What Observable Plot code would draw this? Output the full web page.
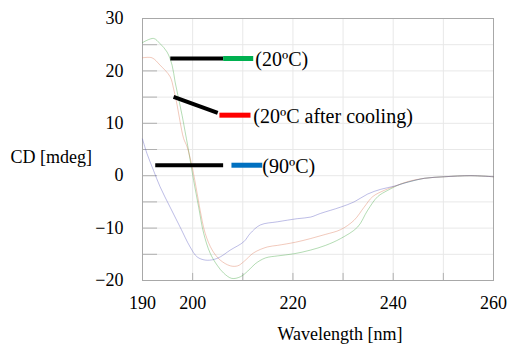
<!DOCTYPE html>
<html><head><meta charset="utf-8">
<script src="https://cdn.jsdelivr.net/npm/d3@7"></script>
<script src="https://cdn.jsdelivr.net/npm/@observablehq/plot@0.6"></script>
<style>body{margin:0;background:#fff}</style>
</head><body><div id="chart"></div>
<script>
const seriesNames = ["(20ºC)", "(20ºC after cooling)", "(90ºC)"];
const curveColors = ["#3aa33a", "#d9704f", "#5252bd"];
const swatchColors = ["#00b050", "#ff0000", "#0070c0"];

const wl20 = [190,192.2,193.5,194.9,195.9,196.5,197.2,197.9,198.5,199.0,199.5,200.2,201.2,202.2,203.5,204.9,206.2,207.8,209.5,211.0,212.5,214.5,217,220.2,223.5,226.5,229.5,232.9,234.9,236.9,238.9,241.5,243,246.2,250.2,255.5,260];
const cd20 = [25.4,26.2,25.2,23.6,21.1,17.9,14.7,11.5,8.4,5.8,3.0,-0.9,-6.0,-11.0,-14.8,-17.1,-18.6,-19.6,-19.3,-18.2,-16.8,-15.7,-15.3,-14.9,-14.2,-13.3,-12.0,-9.8,-6.6,-4.0,-2.8,-1.6,-1.2,-0.5,-0.2,0,-0.2];

const wlCool = [190,191.9,193.5,195.5,196.2,196.9,197.5,198.2,198.9,199.9,200.9,201.5,202.5,203.9,205.5,207.5,209,210.2,212.2,214.9,216.9,220.5,223.5,226.5,229.5,232.2,234.2,235.9,238.2,240.9,243,246.2,250.2,255.5,260];
const cdCool = [22.5,22.5,21.1,18.9,16.6,13.5,10.3,7.1,5.5,1.7,-3.4,-6.6,-11.0,-14.2,-16.1,-17.2,-17.2,-16.4,-14.7,-13.6,-13.3,-12.7,-12.0,-11.2,-10.3,-8.5,-6.0,-4.0,-2.8,-1.8,-1.1,-0.5,-0.2,0,-0.2];

const wl90 = [190,190.9,192.2,193.5,195.5,197.5,199.5,200.9,202.5,204.2,205.5,207.5,210.2,211.5,213.5,216.9,220.9,223.5,225.5,229.5,232.2,234.9,237.5,240.2,243,246.2,250.2,255.5,260];
const cd90 = [7.0,4.2,1.0,-2.1,-6.0,-9.8,-13.6,-15.5,-16.1,-16.0,-15.5,-14.2,-12.6,-11.0,-9.4,-8.8,-8.2,-7.9,-7.2,-6.0,-5.0,-3.5,-2.6,-2.0,-1.2,-0.5,-0.2,0,-0.2];

const xTickLabels = [190, 200, 220, 240, 260];
const yTickLabels = [30, 20, 10, 0, -10, -20];

// legend (annotation) anchor values in data units
const leaderStart = [[195.54, 22.37], [196.2, 15.04], [192.54, 2.0]];
const leaderEnd   = [[206.08, 22.37], [205.0, 11.98], [206.08, 2.0]];
const swatchX1 = [206.08, 205.34, 207.74];
const swatchX2 = [212.08, 211.54, 213.88];
const swatchY  = [22.37, 11.55, 2.0];
const labelX   = [212.5, 212.1, 213.9];

const curves = [
  ...wl20.map((w,i)=>({wl:w, cd:cd20[i], s:0})),
  ...wlCool.map((w,i)=>({wl:w, cd:cdCool[i], s:1})),
  ...wl90.map((w,i)=>({wl:w, cd:cd90[i], s:2}))
];
const leaders = seriesNames.map((n,i)=>({x1:leaderStart[i][0], y1:leaderStart[i][1], x2:leaderEnd[i][0], y2:leaderEnd[i][1]}));
const swatches = seriesNames.map((n,i)=>({x1:swatchX1[i], x2:swatchX2[i], y:swatchY[i], c:swatchColors[i], x:labelX[i], name:n}));

const ff = "Liberation Serif, serif";
const chart = Plot.plot({
  width: 508, height: 350,
  marginLeft: 142, marginRight: 15, marginTop: 18, marginBottom: 70,
  style: {background: "#fff", color: "#000", fontFamily: ff},
  x: {domain: [190, 260]},
  y: {domain: [-20, 30]},
  marks: [
    Plot.gridY(d3.range(-20, 31, 5), {stroke: "#e8e8e8", strokeOpacity: 1}),
    Plot.gridX(d3.range(190, 261, 10), {stroke: "#e8e8e8", strokeOpacity: 1}),
    Plot.ruleY(d3.range(-15, 30, 5), {x1: 190, x2: 193, stroke: "#b0b0b0"}),
    Plot.ruleX(d3.range(200, 260, 10), {y1: -20, y2: -18.65, stroke: "#b0b0b0"}),
    Plot.frame({stroke: "#a8a8a8"}),
    Plot.axisY(yTickLabels, {tickSize: 0, tickPadding: 19, fontSize: 18, fontFamily: ff, label: null}),
    Plot.axisX(xTickLabels, {tickSize: 0, tickPadding: 16, fontSize: 18, fontFamily: ff, label: null}),
    Plot.line(curves, {x: "wl", y: "cd", z: "s", stroke: d => curveColors[d.s], strokeWidth: 0.7, strokeOpacity: 0.55, curve: "catmull-rom"}),
    Plot.link(leaders, {x1: "x1", y1: "y1", x2: "x2", y2: "y2", stroke: "#000", strokeWidth: 4}),
    Plot.link(swatches, {x1: "x1", x2: "x2", y1: "y", y2: "y", stroke: "c", strokeWidth: 5}),
    Plot.text(swatches, {x: "x", y: "y", text: "name", textAnchor: "start", fontSize: 20, fontFamily: ff, dy: 1}),
    Plot.text(["CD [mdeg]"], {frameAnchor: "left", dx: -132, dy: 8, textAnchor: "start", fontSize: 18, fontFamily: ff}),
    Plot.text(["Wavelength [nm]"], {frameAnchor: "bottom", dx: 22, dy: 59, fontSize: 18, fontFamily: ff})
  ]
});
document.getElementById("chart").append(chart);
</script></body></html>
